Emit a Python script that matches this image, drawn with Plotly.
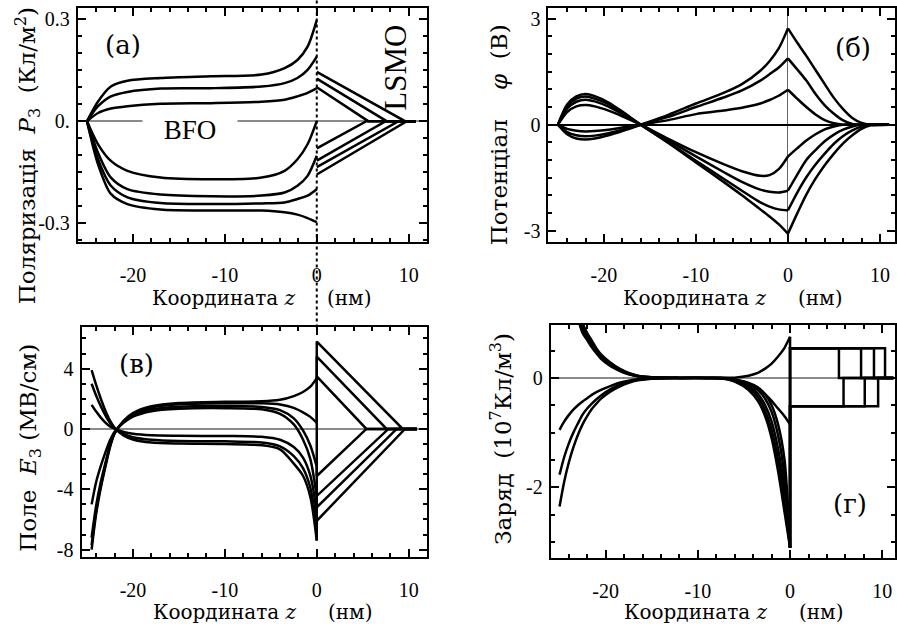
import plotly.graph_objects as go

W, H = 897, 628
FONT = "Liberation Serif"
FONT_CYR = "DejaVu Serif"

# ---------------- panel (а): polarization P3 ----------------
a_z = [-25, -23.8, -22.4, -20.6, -17, -11.5, -6, -3.5, -2.1, -1, 0]
a_P1 = [0, 0.058, 0.102, 0.119, 0.127, 0.132, 0.137, 0.156, 0.18, 0.219, 0.297]
a_P2 = [0, 0.044, 0.073, 0.086, 0.096, 0.097, 0.102, 0.112, 0.127, 0.151, 0.19]
a_P3 = [0, 0.024, 0.037, 0.044, 0.051, 0.053, 0.057, 0.063, 0.073, 0.083, 0.097]
a_P4 = [0, -0.068, -0.117, -0.146, -0.166, -0.171, -0.166, -0.146, -0.112, -0.068, 0]
a_P5 = [0, -0.093, -0.166, -0.2, -0.216, -0.221, -0.219, -0.21, -0.19, -0.161, -0.102]
a_P6 = [0, -0.112, -0.19, -0.224, -0.241, -0.244, -0.242, -0.239, -0.229, -0.219, -0.2]
a_P7 = [0, -0.127, -0.214, -0.244, -0.26, -0.263, -0.263, -0.268, -0.275, -0.285, -0.297]
a_lsmo_start = [0.145, 0.125, 0.10, -0.08, -0.116, -0.135, -0.157]
a_lsmo_width = [9.6, 7.6, 5.6, 5.4, 7.5, 8.9, 9.8]
a_tail = 10.8

# ---------------- panel (б): potential phi ----------------
b_z = [-25, -24, -23, -22, -21, -19.5, -18, -16, -13, -10, -7, -5, -3, -2, -1, 0]
b_N4 = [0, 0.57, 0.8, 0.87, 0.81, 0.63, 0.37, 0, -0.52, -1.07, -1.62, -2.0, -2.4, -2.6, -2.82, -3.09]
b_N3 = [0, 0.52, 0.74, 0.80, 0.74, 0.58, 0.34, 0, -0.5, -1.02, -1.53, -1.87, -2.2, -2.32, -2.4, -2.43]
b_N2 = [0, 0.46, 0.65, 0.71, 0.66, 0.51, 0.30, 0, -0.44, -0.9, -1.34, -1.62, -1.84, -1.9, -1.92, -1.87]
b_N1 = [0, 0.36, 0.52, 0.56, 0.52, 0.40, 0.24, 0, -0.4, -0.78, -1.12, -1.32, -1.45, -1.43, -1.26, -0.9]
b_P1 = [0, -0.27, -0.39, -0.42, -0.39, -0.30, -0.18, 0, 0.28, 0.6, 0.9, 1.15, 1.53, 1.8, 2.16, 2.73]
b_P2 = [0, -0.21, -0.30, -0.33, -0.31, -0.24, -0.14, 0, 0.22, 0.5, 0.77, 0.97, 1.25, 1.43, 1.62, 1.88]
b_P3 = [0, -0.12, -0.17, -0.19, -0.18, -0.14, -0.08, 0, 0.13, 0.3, 0.4, 0.48, 0.6, 0.7, 0.82, 0.99]
b_lz = [0, 1, 2, 3, 4, 5, 6, 7, 8, 9, 11]
b_lP1 = [2.73, 2.33, 1.95, 1.55, 1.15, 0.76, 0.44, 0.19, 0.05, 0, 0]
b_lP2 = [1.88, 1.57, 1.25, 0.87, 0.55, 0.31, 0.12, 0.02, 0, 0, 0]
b_lP3 = [0.99, 0.74, 0.5, 0.29, 0.13, 0.04, 0, 0, 0, 0, 0]
b_lN1 = [-0.9, -0.67, -0.45, -0.27, -0.13, -0.05, 0, 0, 0, 0, 0]
b_lN2 = [-1.87, -1.42, -1.0, -0.72, -0.47, -0.28, -0.14, -0.05, 0, 0, 0]
b_lN3 = [-2.43, -1.93, -1.49, -1.13, -0.82, -0.54, -0.32, -0.16, -0.05, 0, 0]
b_lN4 = [-3.09, -2.52, -1.98, -1.53, -1.15, -0.82, -0.53, -0.3, -0.12, -0.02, 0]

# ---------------- panel (в): field E3 ----------------
v_z = [-24.5, -24, -23.5, -23, -22.5, -22, -21, -20, -18, -15, -10, -6, -4, -2.5, -1.5, -0.7, 0]
v_C1 = [-8.0, -5.6, -3.9, -2.5, -1.2, -0.3, 0.55, 1.05, 1.5, 1.72, 1.8, 1.83, 1.93, 2.18, 2.45, 2.8, 3.37]
v_C2 = [-7.7, -5.4, -3.75, -2.4, -1.15, -0.28, 0.52, 1.0, 1.42, 1.63, 1.7, 1.7, 1.62, 1.4, 1.1, 0.8, 0.4]
v_C3 = [-7.2, -5.05, -3.5, -2.25, -1.07, -0.26, 0.48, 0.92, 1.3, 1.48, 1.52, 1.46, 1.25, 0.7, -0.1, -1.1, -2.5]
v_C4 = [-5.0, -3.5, -2.45, -1.55, -0.75, -0.18, 0.42, 0.82, 1.18, 1.34, 1.38, 1.3, 1.0, 0.3, -0.7, -2.0, -4.5]
v_C5 = [1.6, 1.15, 0.75, 0.42, 0.17, 0.02, -0.2, -0.32, -0.42, -0.45, -0.47, -0.52, -0.72, -1.2, -1.9, -3.1, -5.5]
v_C6 = [3.0, 2.2, 1.5, 0.9, 0.4, 0.05, -0.35, -0.55, -0.72, -0.8, -0.82, -0.9, -1.15, -1.8, -2.6, -3.9, -6.5]
v_C7 = [3.9, 2.9, 2.0, 1.2, 0.55, 0.08, -0.45, -0.7, -0.9, -0.97, -1.0, -1.08, -1.35, -2.3, -3.1, -4.5, -7.4]
v_lsmo_start = [5.79, 4.8, -3.12, 3.48, -4.44, -5.2, -6.09]
v_lsmo_width = [9.35, 7.6, 5.4, 5.4, 7.8, 8.7, 9.6]
v_tail = 10.9

# ---------------- panel (г): charge ----------------
g_z = [-25, -24.5, -24, -23.5, -23, -22.5, -22, -21.5, -21, -20.5, -19.5, -18.5, -17.5,
       -16.5, -15, -12, -9, -7, -6, -4.5, -3.5, -2.7, -2, -1.3, -0.6, 0]
g_G1 = [6, 4.2, 2.9, 2.0, 1.4, 1.0, 0.82, 0.68, 0.54, 0.43, 0.28, 0.17, 0.09, 0.04, 0.01, 0, 0,
        0, 0.005, 0.04, 0.09, 0.17, 0.26, 0.39, 0.55, 0.75]
g_G2 = [5.5, 3.8, 2.6, 1.8, 1.25, 0.92, 0.77, 0.62, 0.5, 0.4, 0.26, 0.16, 0.08, 0.035, 0.01, 0, 0,
        -0.005, -0.03, -0.1, -0.2, -0.3, -0.42, -0.56, -0.7, -0.85]
g_G3 = [5.2, 3.6, 2.45, 1.7, 1.18, 0.87, 0.73, 0.59, 0.47, 0.37, 0.24, 0.14, 0.07, 0.03, 0.01, 0, 0,
        0, -0.03, -0.09, -0.17, -0.3, -0.5, -0.85, -1.5, -3.1]
g_G4 = [4.8, 3.3, 2.25, 1.55, 1.1, 0.82, 0.69, 0.56, 0.45, 0.35, 0.22, 0.13, 0.065, 0.03, 0.008, 0, 0,
        0, -0.04, -0.12, -0.22, -0.38, -0.62, -1.05, -1.8, -3.1]
g_G5 = [-0.95, -0.8, -0.68, -0.58, -0.5, -0.43, -0.37, -0.31, -0.26, -0.22, -0.15, -0.09, -0.05,
        -0.025, -0.01, 0, 0, -0.01, -0.05, -0.15, -0.29, -0.5, -0.8, -1.3, -2.05, -3.1]
g_G6 = [-1.77, -1.45, -1.2, -1.0, -0.83, -0.67, -0.56, -0.47, -0.39, -0.32, -0.21, -0.13, -0.07,
        -0.035, -0.01, 0, 0, -0.015, -0.06, -0.18, -0.35, -0.6, -0.95, -1.5, -2.25, -3.1]
g_G7 = [-2.35, -1.9, -1.55, -1.27, -1.04, -0.85, -0.7, -0.57, -0.47, -0.38, -0.25, -0.16, -0.09,
        -0.045, -0.015, 0, 0, -0.02, -0.07, -0.22, -0.42, -0.7, -1.1, -1.7, -2.45, -3.1]
g_lsmo_rho = [0.54, -0.52, 0.54, -0.52, 0.54, -0.52, 0.54]
g_lsmo_width = [10.3, 9.55, 9.1, 8.1, 7.7, 5.8, 5.3]
g_tail = 11.2

# ---------------- ticks ----------------
x_ticks = [-20, -10, 0, 10]
x_labels = ["-20", "-10", "0", "10"]
a_yticks = [-0.3, 0, 0.3]
a_ylabels = ["-0.3", "0.", "0.3"]
b_yticks = [-3, 0, 3]
b_ylabels = ["-3", "0", "3"]
v_yticks = [-8, -4, 0, 4]
v_ylabels = ["-8", "-4", "0", "4"]
g_yticks = [-2, 0]
g_ylabels = ["-2", "0"]

fig = go.Figure()
LW = 2.5


def add(x, y, xa, ya, shape="linear"):
    fig.add_trace(go.Scatter(x=x, y=y, mode="lines", xaxis=xa, yaxis=ya,
                             line=dict(color="black", width=LW, shape=shape, smoothing=0.8),
                             showlegend=False, hoverinfo="skip"))


# (а)
for p in [a_P1, a_P2, a_P3, a_P4, a_P5, a_P6, a_P7]:
    add(a_z, p, "x", "y", "spline")
for s, w in zip(a_lsmo_start, a_lsmo_width):
    add([0, w, a_tail], [s, 0, 0], "x", "y")

# (б)
for p in [b_N4, b_N3, b_N2, b_N1, b_P1, b_P2, b_P3]:
    add(b_z, p, "x2", "y2", "spline")
for p in [b_lP1, b_lP2, b_lP3, b_lN1, b_lN2, b_lN3, b_lN4]:
    add(b_lz, p, "x2", "y2", "spline")

# (в)
v_curves = [v_C1, v_C2, v_C3, v_C4, v_C5, v_C6, v_C7]
for c in v_curves:
    add(v_z, c, "x3", "y3", "spline")
for c, s, w in zip(v_curves, v_lsmo_start, v_lsmo_width):
    add([0, 0, w, v_tail], [c[-1], s, 0, 0], "x3", "y3")

# (г)
g_curves = [g_G1, g_G2, g_G3, g_G4, g_G5, g_G6, g_G7]
for c in g_curves:
    add(g_z, c, "x4", "y4", "spline")
for c, r, w in zip(g_curves, g_lsmo_rho, g_lsmo_width):
    add([0, 0, w, w, g_tail], [c[-1], r, r, 0, 0], "x4", "y4")


def xd(px):
    return px / W


def yd(py):
    return 1 - py / H


tickfont = dict(family=FONT, size=20, color="black")


def xaxis(dom, rng, anchor, zeroline=False):
    return dict(domain=[xd(dom[0]), xd(dom[1])], range=rng, anchor=anchor,
                showline=True, linecolor="black", linewidth=2, mirror="allticks",
                ticks="inside", ticklen=8, tickwidth=1.5, tickcolor="black",
                tickmode="array", tickvals=x_ticks, ticktext=x_labels,
                minor=dict(ticks="inside", ticklen=4, tickwidth=1.5, tickcolor="black", dtick=2, tick0=0),
                showgrid=False, zeroline=zeroline, zerolinecolor="#666666", zerolinewidth=1,
                tickfont=tickfont, ticklabelstandoff=14)


def yaxis(dom, rng, anchor, tv, tt, mdt, zcol="#8a8a8a"):
    return dict(domain=[yd(dom[1]), yd(dom[0])], range=rng, anchor=anchor,
                showline=True, linecolor="black", linewidth=2, mirror="allticks",
                ticks="inside", ticklen=8, tickwidth=1.5, tickcolor="black",
                tickmode="array", tickvals=tv, ticktext=tt,
                minor=dict(ticks="inside", ticklen=4, tickwidth=1.5, tickcolor="black", dtick=mdt, tick0=0),
                showgrid=False, zeroline=True, zerolinecolor=zcol, zerolinewidth=1.5,
                tickfont=tickfont, ticklabelstandoff=2)


fig.update_layout(
    width=W, height=H, margin=dict(l=0, r=0, t=0, b=0),
    plot_bgcolor="white", paper_bgcolor="white",
    font=dict(family=FONT, color="black"),
    xaxis=xaxis([78, 428], [-26.0, 12.0], "y"),
    yaxis=yaxis([8, 243], [-0.355, 0.333], "x", a_yticks, a_ylabels, 0.05),
    xaxis2=xaxis([549.7, 897], [-26.03, 11.64], "y2", zeroline=True),
    yaxis2=yaxis([8.3, 243], [-3.32, 3.30], "x2", b_yticks, b_ylabels, 0.5, zcol="black"),
    xaxis3=xaxis([81.7, 428], [-25.6, 12.0], "y3"),
    yaxis3=yaxis([329, 560], [-8.51, 6.73], "x3", v_yticks, v_ylabels, 1),
    xaxis4=xaxis([552, 897], [-25.95, 11.38], "y4"),
    yaxis4=yaxis([326.3, 560.5], [-3.287, 0.971], "x4", g_yticks, g_ylabels, 0.5),
)

# dotted interface line z = 0 from top of figure down to panel (в)
fig.add_shape(type="line", xref="x", yref="paper", x0=0, x1=0, y0=yd(329), y1=1,
              line=dict(color="black", width=2, dash="dot"))

ann = []


def text(px, py, s, size, angle=0, family=FONT, **kw):
    ann.append(dict(x=xd(px), y=yd(py), xref="paper", yref="paper", text=s, showarrow=False,
                    textangle=angle, xanchor="center", yanchor="middle",
                    font=dict(family=family, size=size, color="black"), **kw))


NB = "\u00a0"
xtitle = "Координата <i>z</i>" + NB * 5 + "(нм)"
text(262, 299, xtitle, 20, family=FONT_CYR)
text(734, 299, xtitle, 20, family=FONT_CYR)
text(263, 615, xtitle, 20, family=FONT_CYR)
text(735, 615, xtitle, 20, family=FONT_CYR)

text(27, 156, "Поляризація" + NB * 2 + "<i>P</i><sub>3</sub>" + NB * 2 + "(Кл/м<sup>2</sup>)", 23, -90, family=FONT_CYR)
text(500, 135, "Потенціал" + NB * 4 + "<i>φ</i>" + NB * 2 + "(В)", 23, -90, family=FONT_CYR)
text(30, 450, "Поле" + NB * 2 + "<i>E</i><sub>3</sub>" + NB + "(МВ/см)", 23, -90, family=FONT_CYR)
text(502, 441, "Заряд" + NB * 2 + "(10<sup>7</sup>Кл/м<sup>3</sup>)", 23, -90, family=FONT_CYR)

text(123, 45, "(а)", 26, family=FONT_CYR)
text(855, 48, "(б)", 26, family=FONT_CYR)
text(137, 366, "(в)", 26, family=FONT_CYR)
text(852, 506, "(г)", 26, family=FONT_CYR)

text(190, 131, "BFO", 27, bgcolor="white", width=92, borderpad=1)
text(397, 68, "LSMO", 31, -90)

fig.update_layout(annotations=ann)
fig.write_html("out.html")
